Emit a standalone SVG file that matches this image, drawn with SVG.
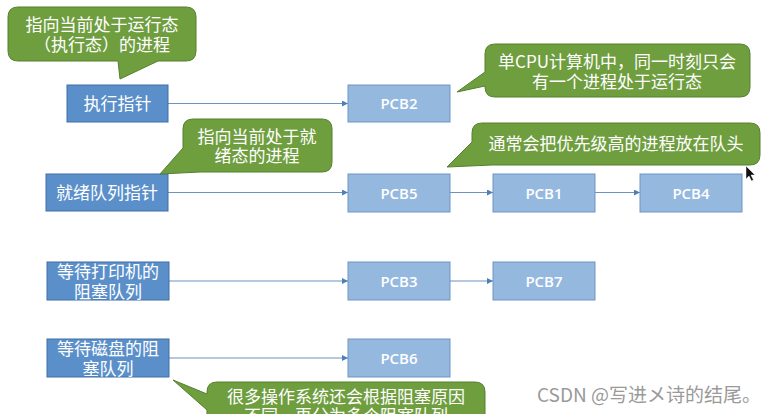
<svg xmlns="http://www.w3.org/2000/svg" width="769" height="414" viewBox="0 0 769 414">
<defs>
<style>
.bub{fill:#6F9E3F;stroke:#55802E;stroke-width:1}
.bt{font-family:"Noto Sans CJK SC","Noto Sans",sans-serif;font-size:17px;fill:#fff;text-anchor:middle}
.hd{fill:#5B8FCA;stroke:#3F6FA6;stroke-width:1}
.ht{font-family:"Noto Sans CJK SC","Noto Sans",sans-serif;font-size:17px;fill:#fff;text-anchor:middle}
.pcb{fill:#95B8DF;stroke:#6E95C3;stroke-width:1}
.pt{font-family:"Open Sans","Noto Sans",sans-serif;font-weight:600;font-size:15px;fill:#fff;text-anchor:middle}
.cn{stroke:#6E92BE;stroke-width:1.2;fill:none;marker-end:url(#ah)}
</style>
<marker id="ah" viewBox="0 0 10 10" refX="10" refY="5" markerWidth="6" markerHeight="6" markerUnits="userSpaceOnUse" orient="auto">
<path d="M0,0 L10,5 L0,10 Z" fill="#4F7FB8"/>
</marker>
</defs>
<rect width="769" height="414" fill="#fff"/>

<g id="connectors">
<line class="cn" x1="168" y1="103.5" x2="348" y2="103.5"/>
<line class="cn" x1="168" y1="192.5" x2="348" y2="192.5"/>
<line class="cn" x1="450" y1="192.5" x2="493" y2="192.5"/>
<line class="cn" x1="595" y1="192.5" x2="640" y2="192.5"/>
<line class="cn" x1="169" y1="281" x2="348" y2="281"/>
<line class="cn" x1="450" y1="281" x2="493" y2="281"/>
<line class="cn" x1="169" y1="358" x2="348" y2="358"/>
</g>

<g id="exec-ptr">
<rect class="hd" x="67" y="85" width="101" height="37"/>
<text class="ht" x="117.5" y="109.5">执行指针</text>
</g>
<g id="ready-ptr">
<rect class="hd" x="46" y="174" width="122" height="37"/>
<text class="ht" x="107" y="198.5">就绪队列指针</text>
</g>
<g id="printer-queue">
<rect class="hd" x="47" y="262" width="122" height="38"/>
<text class="ht" x="108" y="278" font-size="18">等待打印机的</text>
<text class="ht" x="108" y="298" font-size="18">阻塞队列</text>
</g>
<g id="disk-queue">
<rect class="hd" x="47" y="339" width="122" height="38"/>
<text class="ht" x="108" y="355" font-size="18">等待磁盘的阻</text>
<text class="ht" x="108" y="375" font-size="18">塞队列</text>
</g>

<g id="pcb2"><rect class="pcb" x="348" y="85" width="102" height="37"/><text class="pt" x="399" y="109">PCB2</text></g>
<g id="pcb5"><rect class="pcb" x="348" y="174" width="102" height="38"/><text class="pt" x="399" y="198.5">PCB5</text></g>
<g id="pcb1"><rect class="pcb" x="493" y="174" width="102" height="38"/><text class="pt" x="544" y="198.5">PCB1</text></g>
<g id="pcb4"><rect class="pcb" x="640" y="174" width="102" height="38"/><text class="pt" x="691" y="198.5">PCB4</text></g>
<g id="pcb3"><rect class="pcb" x="348" y="262" width="102" height="38"/><text class="pt" x="399" y="286.5">PCB3</text></g>
<g id="pcb7"><rect class="pcb" x="493" y="262" width="102" height="38"/><text class="pt" x="544" y="286.5">PCB7</text></g>
<g id="pcb6"><rect class="pcb" x="348" y="339" width="102" height="38"/><text class="pt" x="399" y="363.5">PCB6</text></g>

<g id="note-exec">
<path class="bub" d="M18,7 H186 Q196,7 196,17 V51 Q196,61 186,61 H158 L120,79 L118,61 H18 Q8,61 8,51 V17 Q8,7 18,7 Z"/>
<text class="bt" x="102" y="31">指向当前处于运行态</text>
<text class="bt" x="102" y="51">（执行态）的进程</text>
</g>
<g id="note-cpu">
<path class="bub" d="M495,44 H740 Q750,44 750,54 V87 Q750,97 740,97 H495 Q485,97 485,87 V86 L457,92 L485,72 V54 Q485,44 495,44 Z"/>
<text class="bt" x="617" y="68" font-size="16">单CPU计算机中，同一时刻只会</text>
<text class="bt" x="617" y="88" font-size="16">有一个进程处于运行态</text>
</g>
<g id="note-ready">
<path class="bub" d="M193,119 H322 Q332,119 332,129 V162 Q332,172 322,172 H200 L160,174 L183,148 V129 Q183,119 193,119 Z"/>
<text class="bt" x="257" y="143">指向当前处于就</text>
<text class="bt" x="257" y="162">绪态的进程</text>
</g>
<g id="note-priority">
<path class="bub" d="M482,123 H750 Q760,123 760,133 V155 Q760,165 750,165 H492 L447,167 L472,142 V133 Q472,123 482,123 Z"/>
<text class="bt" x="616" y="150">通常会把优先级高的进程放在队头</text>
</g>
<g id="note-blocked">
<path class="bub" d="M217,382 H475 Q485,382 485,392 V440 H207 V410 L173,380 L207,394 V392 Q207,382 217,382 Z"/>
<text class="bt" x="346" y="403">很多操作系统还会根据阻塞原因</text>
<text class="bt" x="346" y="422">不同，再分为多个阻塞队列</text>
</g>

<text x="537" y="402" font-family="'Noto Sans CJK SC','Noto Sans',sans-serif" font-size="19" fill="#9a9a9a">CSDN @写进メ诗的结尾。</text>
<path d="M746,166 L746,179 L749,176 L751.5,181 L753.5,180 L751,175 L755,175 Z" fill="#111" stroke="#fff" stroke-width="0.5"/>
</svg>
